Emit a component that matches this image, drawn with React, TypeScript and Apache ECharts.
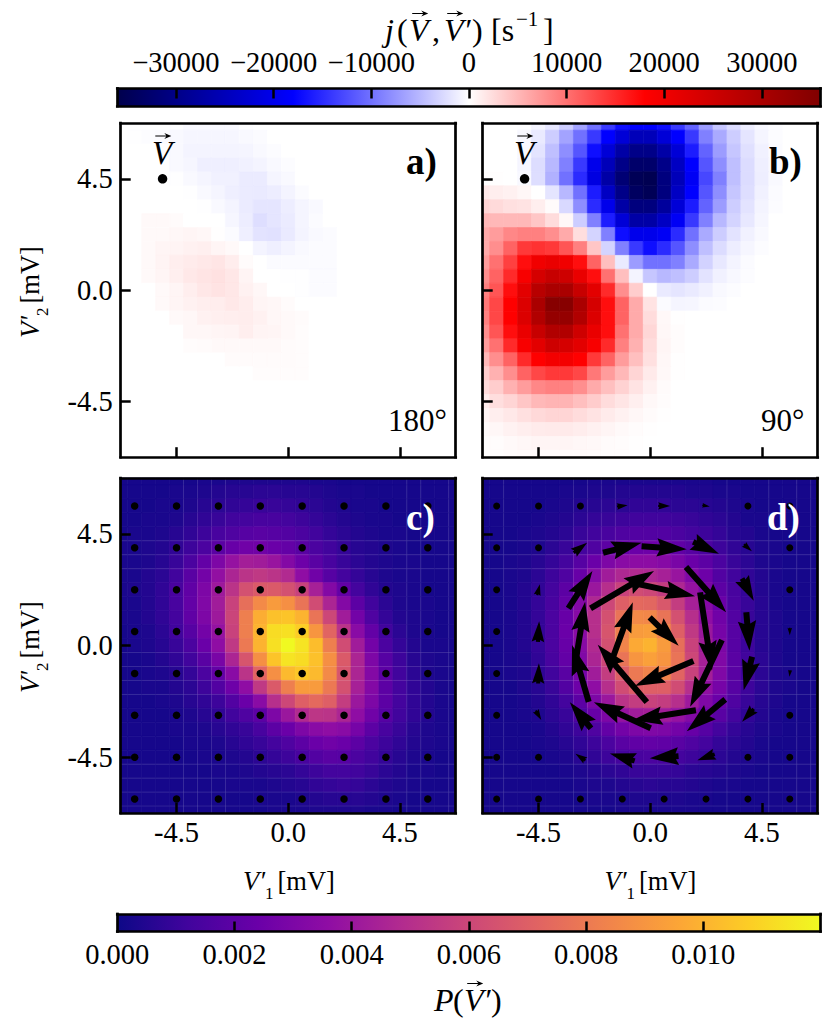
import { useEffect, useRef } from "react";
import * as echarts from "echarts";

// cell centres of the 25x25 maps, mV (the outer cells are half clipped by the frame)
const cellCenters = [
  -6.75, -6.1875, -5.625, -5.0625, -4.5, -3.9375, -3.375, -2.8125, -2.25, -1.6875, -1.125, -0.5625, 0,
  0.5625, 1.125, 1.6875, 2.25, 2.8125, 3.375, 3.9375, 4.5, 5.0625, 5.625, 6.1875, 6.75,
];
const panelTicks = [-4.5, 0, 4.5];
const currentTicks = [-30000, -20000, -10000, 0, 10000, 20000, 30000];
const probTicks = [0, 0.002, 0.004, 0.006, 0.008, 0.01];
const currentMax = 36000;
const probMax = 0.012;

const seismic = ["#00004c", "#0000ff", "#ffffff", "#ff0000", "#800000"];
const plasma = ["#0d0887", "#41049d", "#6a00a8", "#8f0da4", "#b12a90", "#cc4778", "#e16462", "#f1844b", "#fca636", "#fcce25", "#f0f921"];

// panel a), j in 1000 s^-1, rows from the top
const current180 = [
  [0, 0, 0, 0, -0.1, -0.4, -0.4, -0.4, -0.4, -0.1, 0, 0, 0, 0, 0, 0, 0, 0, 0, 0, 0, 0, 0, 0, 0],
  [0, -0.1, -0.2, -0.3, -0.4, -0.6, -0.6, -0.6, -0.6, -0.4, -0.3, 0, 0, 0, 0, 0, 0, 0, 0, 0, 0, 0, 0, 0, 0],
  [0, 0, 0, -0.1, -0.4, -0.8, -0.8, -0.8, -0.8, -0.7, -0.4, -0.2, 0, 0, 0, 0, 0, 0, 0, 0, 0, 0, 0, 0, 0],
  [0, 0, 0, 0, -0.4, -0.6, -1.1, -1.1, -1.1, -1, -0.8, -0.4, -0.2, 0, 0, 0, 0, 0, 0, 0, 0, 0, 0, 0, 0],
  [0, 0, 0, 0, -0.1, -0.4, -0.7, -1, -1, -1.4, -1.4, -0.7, -0.4, 0, 0, 0, 0, 0, 0, 0, 0, 0, 0, 0, 0],
  [0, 0, 0, 0, 0, -0.1, -0.4, -0.7, -1.1, -1.4, -1.5, -1.3, -0.8, -0.3, 0, 0, 0, 0, 0, 0, 0, 0, 0, 0, 0],
  [0, 0, 0, 0, 0, 0, -0.1, -0.4, -0.8, -1.4, -1.8, -1.8, -1.3, -0.7, -0.4, 0, 0, 0, 0, 0, 0, 0, 0, 0, 0],
  [0, 0, 0.4, 0.4, 0.3, 0, 0, 0, -0.6, -1.3, -2.3, -1.8, -1.4, -0.7, -0.3, 0, 0, 0, 0, 0, 0, 0, 0, 0, 0],
  [0, 0, 0.4, 0.4, 0.6, 0.7, 0.6, 0.1, -0.3, -1.1, -2, -2.1, -1.5, -0.8, -0.4, -0.3, 0, 0, 0, 0, 0, 0, 0, 0, 0],
  [0, 0, 0.4, 0.7, 0.8, 1, 1.1, 0.7, 0.4, 0, -0.8, -1.1, -0.8, -0.4, -0.3, -0.3, 0, 0, 0, 0, 0, 0, 0, 0, 0],
  [0, 0, 0.4, 0.8, 1.2, 1.4, 1.6, 1.8, 1.3, 0.3, 0, -0.3, -0.3, -0.3, -0.3, -0.3, 0, 0, 0, 0, 0, 0, 0, 0, 0],
  [0, 0, 0.4, 0.7, 1.1, 1.6, 1.9, 2.1, 1.7, 0.8, 0, 0, -0.1, -0.1, -0.3, -0.3, 0, 0, 0, 0, 0, 0, 0, 0, 0],
  [0, 0, 0, 0.4, 0.7, 1.2, 1.7, 2, 1.7, 1, 0.6, 0, 0, -0.1, -0.3, -0.3, 0, 0, 0, 0, 0, 0, 0, 0, 0],
  [0, 0, 0, 0.4, 0.7, 1, 1.2, 1.3, 1.6, 1.3, 0.7, 0.6, 0.3, 0, 0, 0, 0, 0, 0, 0, 0, 0, 0, 0, 0],
  [0, 0, 0, 0, 0.4, 0.6, 1, 1.1, 1.2, 1.3, 1, 0.6, 0.4, 0.3, 0, 0, 0, 0, 0, 0, 0, 0, 0, 0, 0],
  [0, 0, 0, 0, 0, 0.6, 0.6, 0.7, 0.8, 1.2, 0.8, 0.7, 0.4, 0.2, 0, 0, 0, 0, 0, 0, 0, 0, 0, 0, 0],
  [0, 0, 0, 0, 0, 0.2, 0.3, 0.4, 0.4, 0.4, 0.4, 0.4, 0.3, 0.2, 0, 0, 0, 0, 0, 0, 0, 0, 0, 0, 0],
  [0, 0, 0, 0, 0, 0, 0, 0, 0.3, 0.3, 0.3, 0.3, 0.3, 0.2, 0, 0, 0, 0, 0, 0, 0, 0, 0, 0, 0],
  [0, 0, 0, 0, 0, 0, 0, 0, 0, 0, 0.2, 0.2, 0.2, 0.2, 0, 0, 0, 0, 0, 0, 0, 0, 0, 0, 0],
  [0, 0, 0, 0, 0, 0, 0, 0, 0, 0, 0, 0, 0, 0, 0, 0, 0, 0, 0, 0, 0, 0, 0, 0, 0],
  [0, 0, 0, 0, 0, 0, 0, 0, 0, 0, 0, 0, 0, 0, 0, 0, 0, 0, 0, 0, 0, 0, 0, 0, 0],
  [0, 0, 0, 0, 0, 0, 0, 0, 0, 0, 0, 0, 0, 0, 0, 0, 0, 0, 0, 0, 0, 0, 0, 0, 0],
  [0, 0, 0, 0, 0, 0, 0, 0, 0, 0, 0, 0, 0, 0, 0, 0, 0, 0, 0, 0, 0, 0, 0, 0, 0],
  [0, 0, 0, 0, 0, 0, 0, 0, 0, 0, 0, 0, 0, 0, 0, 0, 0, 0, 0, 0, 0, 0, 0, 0, 0],
  [0, 0, 0, 0, 0, 0, 0, 0, 0, 0, 0, 0, 0, 0, 0, 0, 0, 0, 0, 0, 0, 0, 0, 0, 0],
];

// panel b), j in 1000 s^-1, rows from the top
const current90 = [
  [0, 0, 0, -0.1, -0.7, -1.7, -3.5, -6.5, -10, -14, -17, -18, -18, -17, -14, -11, -7, -4, -2.5, -1.2, -0.5, -0.2, 0, 0, 0],
  [0, 0, 0, -0.5, -1.5, -3.5, -6.5, -10, -14, -18, -22, -25, -25, -22, -18, -14, -9, -6, -3.5, -1.8, -0.7, -0.2, 0, 0, 0],
  [0, 0, 0, -0.5, -1.9, -4.5, -8, -12, -17, -22, -27, -30, -30, -27, -22, -16, -11, -7, -4, -2.2, -1, -0.3, 0, 0, 0],
  [0, 0, 0, -0.6, -2.4, -5, -9, -14, -20, -25, -30, -33, -33, -30, -24, -18, -12, -8, -4.5, -2.5, -1.1, -0.4, 0, 0, 0],
  [0.1, 0.1, 0, -0.4, -2.3, -5.5, -10, -15, -21, -27, -32, -35, -35.5, -31, -25, -19, -13, -9, -4.5, -2.5, -1.2, -0.4, 0, 0, 0],
  [1.5, 1.2, 1, 0.6, 0, -1.8, -5, -10, -16, -24, -30, -34, -35, -31, -24, -18, -12, -8, -4, -2.3, -1, -0.3, 0, 0, 0],
  [3, 2.6, 2.2, 2, 1.2, 0.3, -2.7, -8, -15, -20, -27, -31, -31, -28, -22, -16, -11, -7, -3.5, -2, -0.8, -0.2, 0, 0, 0],
  [5, 5, 5, 5, 4, 2.5, 0.5, -3.5, -9, -16, -22, -27, -27, -24, -19, -14, -9, -5, -3, -1.6, -0.6, 0, 0, 0, 0],
  [6, 7, 8.5, 9, 9, 8, 6, 2.3, -3, -9, -17, -20, -20, -19, -15, -10, -6, -3.5, -2, -1, -0.4, 0, 0, 0, 0],
  [6, 8, 11, 14, 14.5, 14, 12, 9, 4, -3, -9, -14, -17, -15, -12, -8, -4.5, -2.5, -1.3, -0.6, -0.2, 0, 0, 0, 0],
  [7, 10, 13.5, 17, 20, 21, 20, 17, 11, 4.5, -1.5, -7, -10, -10, -9, -6, -3.2, -1.6, -0.8, -0.3, 0, 0, 0, 0, 0],
  [8, 11, 15, 19, 24, 26, 25, 21, 17, 10, 4.5, -0.8, -4, -5, -4.5, -3.5, -2, -1, -0.5, -0.2, 0, 0, 0, 0, 0],
  [9, 12, 17, 22, 28, 30, 30, 26, 22, 15, 8, 3.5, 0, -1.5, -1.8, -1.5, -1, -0.4, -0.2, 0, 0, 0, 0, 0, 0],
  [9.5, 13, 18, 23, 30, 35, 35, 30, 24, 17, 11, 6, 2, -0.3, -0.7, -0.6, -0.3, -0.2, 0, 0, 0, 0, 0, 0, 0],
  [9, 13, 18, 23, 29, 33, 33, 29, 23, 17, 11, 6, 2.5, 0.5, 0.1, 0, 0, 0, 0, 0, 0, 0, 0, 0, 0],
  [8, 12, 17, 21, 26, 29, 29, 25, 21, 17, 10, 6, 2.8, 0.6, 0.2, 0, 0, 0, 0, 0, 0, 0, 0, 0, 0],
  [7, 10, 15, 19, 22, 25, 24, 22, 19, 15, 9, 5.5, 2.5, 0.7, 0.2, 0, 0, 0, 0, 0, 0, 0, 0, 0, 0],
  [5, 8, 11, 15, 18, 19.5, 19.5, 18, 14, 11, 7, 4.5, 2.2, 0.6, 0.1, 0, 0, 0, 0, 0, 0, 0, 0, 0, 0],
  [3.5, 5.5, 8, 11, 13, 14, 14, 13, 9.5, 7, 5, 3, 1.5, 0.5, 0.1, 0, 0, 0, 0, 0, 0, 0, 0, 0, 0],
  [2.5, 3.5, 5.5, 7, 8.5, 9, 9, 8, 6, 4.5, 3.2, 2, 1, 0.3, 0, 0, 0, 0, 0, 0, 0, 0, 0, 0, 0],
  [1.3, 2.3, 3, 4, 5, 5.3, 5.3, 4.5, 3.6, 2.5, 1.8, 1.1, 0.5, 0.2, 0, 0, 0, 0, 0, 0, 0, 0, 0, 0, 0],
  [0.7, 1.2, 1.6, 2.2, 2.7, 3, 3, 2.5, 2, 1.4, 1, 0.6, 0.3, 0.1, 0, 0, 0, 0, 0, 0, 0, 0, 0, 0, 0],
  [0.3, 0.6, 0.9, 1.2, 1.4, 1.5, 1.5, 1.3, 1, 0.7, 0.4, 0.2, 0.1, 0, 0, 0, 0, 0, 0, 0, 0, 0, 0, 0, 0],
  [0.1, 0.2, 0.4, 0.6, 0.7, 0.7, 0.7, 0.6, 0.5, 0.3, 0.2, 0.1, 0, 0, 0, 0, 0, 0, 0, 0, 0, 0, 0, 0, 0],
  [0.1, 0.1, 0.2, 0.3, 0.3, 0.3, 0.3, 0.3, 0.2, 0.1, 0.1, 0, 0, 0, 0, 0, 0, 0, 0, 0, 0, 0, 0, 0, 0],
];

// panel c), P x 10^4, rows from the top
const probStatic = [
  [2, 2, 2, 2, 2, 2, 3, 3, 4, 4, 4, 4, 4, 4, 3, 3, 2, 2, 2, 2, 2, 2, 2, 2, 2],
  [2, 2, 2, 2, 3, 3, 4, 5, 6, 6, 7, 7, 6, 6, 5, 4, 3, 3, 2, 2, 2, 2, 2, 2, 2],
  [2, 2, 2, 3, 3, 4, 6, 7, 8, 9, 10, 10, 9, 8, 7, 5, 4, 3, 3, 2, 2, 2, 2, 2, 2],
  [2, 2, 3, 3, 4, 6, 8, 10, 12, 13, 14, 14, 13, 11, 9, 7, 5, 4, 3, 3, 2, 2, 2, 2, 2],
  [2, 3, 3, 4, 6, 8, 11, 14, 16, 18, 19, 18, 17, 15, 12, 9, 7, 5, 4, 3, 3, 2, 2, 2, 2],
  [3, 3, 4, 5, 8, 11, 15, 19, 23, 26, 26, 24, 22, 19, 15, 12, 9, 6, 5, 4, 3, 2, 2, 2, 2],
  [3, 3, 4, 6, 10, 15, 22, 30, 38, 43, 42, 39, 32, 25, 19, 14, 10, 7, 5, 4, 3, 3, 2, 2, 2],
  [3, 3, 5, 7, 12, 19, 27, 37, 46, 52, 54, 52, 48, 36, 26, 18, 13, 9, 6, 4, 3, 3, 2, 2, 2],
  [3, 4, 5, 8, 14, 21, 30, 41, 52, 64, 68, 68, 64, 58, 44, 32, 22, 13, 8, 5, 4, 3, 2, 2, 2],
  [3, 3, 5, 8, 14, 22, 31, 42, 58, 76, 86, 92, 88, 78, 62, 46, 32, 20, 12, 7, 4, 3, 3, 2, 2],
  [3, 3, 5, 8, 13, 21, 30, 41, 59, 82, 98, 104, 105, 100, 78, 60, 42, 27, 16, 9, 5, 4, 3, 2, 2],
  [2, 3, 4, 7, 12, 18, 27, 38, 58, 82, 100, 112, 113, 108, 90, 72, 52, 34, 22, 12, 7, 4, 3, 2, 2],
  [2, 3, 4, 6, 10, 15, 24, 36, 54, 80, 100, 113, 120, 114, 103, 82, 62, 42, 27, 15, 9, 5, 3, 3, 2],
  [2, 2, 3, 5, 8, 12, 19, 29, 46, 66, 88, 105, 114, 112, 104, 88, 68, 46, 30, 18, 11, 6, 4, 3, 2],
  [2, 2, 3, 4, 6, 9, 15, 22, 34, 52, 72, 88, 102, 106, 102, 86, 66, 46, 32, 20, 12, 7, 4, 3, 2],
  [2, 2, 3, 3, 5, 7, 11, 17, 25, 36, 54, 68, 82, 92, 92, 80, 64, 44, 32, 20, 13, 8, 5, 3, 2],
  [2, 2, 2, 3, 4, 6, 8, 11, 17, 24, 34, 50, 60, 70, 74, 70, 56, 40, 30, 20, 13, 8, 5, 3, 2],
  [2, 2, 2, 2, 3, 4, 6, 8, 12, 16, 20, 30, 40, 48, 53, 52, 46, 36, 26, 18, 12, 8, 5, 3, 2],
  [2, 2, 2, 2, 3, 3, 4, 6, 8, 10, 14, 20, 24, 30, 34, 36, 34, 28, 20, 14, 10, 6, 4, 3, 2],
  [2, 2, 2, 2, 2, 3, 3, 4, 6, 8, 10, 13, 16, 20, 24, 26, 24, 20, 15, 11, 8, 5, 4, 3, 2],
  [2, 2, 2, 2, 2, 2, 3, 3, 4, 5, 7, 9, 11, 14, 17, 19, 18, 15, 12, 9, 6, 4, 3, 2, 2],
  [2, 2, 2, 2, 2, 2, 2, 3, 3, 4, 5, 6, 7, 9, 11, 13, 13, 12, 10, 7, 5, 3, 3, 2, 2],
  [2, 2, 2, 2, 2, 2, 2, 2, 3, 3, 3, 4, 5, 6, 8, 9, 10, 9, 7, 5, 4, 3, 2, 2, 2],
  [2, 2, 2, 2, 2, 2, 2, 2, 2, 2, 3, 3, 3, 4, 5, 6, 6, 6, 5, 4, 3, 2, 2, 2, 2],
  [2, 2, 2, 2, 2, 2, 2, 2, 2, 2, 2, 3, 3, 3, 4, 4, 4, 4, 3, 3, 2, 2, 2, 2, 2],
];

// panel d), P x 10^4, rows from the top
const probDriven = [
  [2, 2, 2, 2, 2, 2, 2, 2, 3, 3, 3, 3, 3, 3, 3, 3, 3, 2, 2, 2, 2, 2, 2, 2, 2],
  [2, 2, 2, 2, 2, 2, 3, 3, 4, 4, 5, 5, 5, 5, 5, 4, 4, 3, 3, 2, 2, 2, 2, 2, 2],
  [2, 2, 2, 2, 2, 3, 4, 5, 6, 7, 7, 8, 8, 8, 7, 7, 6, 5, 4, 3, 2, 2, 2, 2, 2],
  [2, 2, 2, 2, 3, 4, 5, 7, 9, 10, 11, 12, 12, 12, 11, 10, 8, 7, 5, 3, 3, 2, 2, 2, 2],
  [2, 2, 2, 3, 4, 5, 7, 10, 12, 14, 16, 17, 17, 17, 15, 13, 11, 9, 6, 5, 3, 2, 2, 2, 2],
  [2, 2, 2, 3, 4, 7, 10, 13, 16, 20, 23, 24, 25, 24, 21, 18, 15, 11, 8, 6, 4, 3, 2, 2, 2],
  [2, 2, 3, 4, 6, 9, 13, 18, 24, 30, 34, 35, 35, 33, 29, 24, 20, 15, 10, 7, 4, 3, 2, 2, 2],
  [2, 2, 3, 4, 7, 11, 16, 23, 33, 42, 47, 48, 47, 44, 39, 31, 25, 17, 12, 8, 5, 3, 2, 2, 2],
  [2, 2, 3, 5, 8, 13, 20, 28, 40, 50, 58, 62, 60, 56, 47, 38, 29, 20, 14, 9, 5, 3, 2, 2, 2],
  [2, 2, 3, 5, 9, 14, 22, 32, 47, 60, 70, 74, 73, 67, 56, 44, 33, 24, 15, 10, 6, 3, 2, 2, 2],
  [2, 2, 3, 5, 9, 15, 23, 33, 50, 64, 78, 86, 85, 78, 64, 50, 36, 26, 17, 10, 6, 4, 2, 2, 2],
  [2, 2, 3, 5, 9, 15, 24, 34, 50, 66, 82, 92, 93, 84, 70, 54, 40, 28, 18, 11, 6, 4, 2, 2, 2],
  [2, 2, 3, 5, 9, 15, 23, 33, 48, 64, 84, 97, 100, 92, 76, 58, 42, 30, 18, 11, 6, 4, 2, 2, 2],
  [2, 2, 3, 4, 8, 14, 22, 31, 46, 60, 78, 90, 94, 90, 78, 60, 44, 31, 19, 12, 7, 4, 2, 2, 2],
  [2, 2, 3, 4, 8, 12, 19, 28, 42, 56, 70, 80, 84, 84, 72, 58, 43, 31, 19, 12, 7, 4, 3, 2, 2],
  [2, 2, 2, 4, 6, 10, 17, 25, 36, 50, 62, 69, 70, 70, 62, 50, 37, 28, 18, 11, 7, 4, 3, 2, 2],
  [2, 2, 2, 3, 5, 8, 13, 20, 30, 40, 52, 56, 58, 56, 50, 41, 31, 24, 16, 10, 6, 4, 2, 2, 2],
  [2, 2, 2, 3, 4, 7, 10, 16, 23, 30, 38, 42, 43, 42, 38, 32, 25, 19, 13, 8, 5, 3, 2, 2, 2],
  [2, 2, 2, 2, 3, 5, 8, 11, 16, 22, 27, 30, 31, 30, 27, 23, 18, 13, 9, 6, 4, 3, 2, 2, 2],
  [2, 2, 2, 2, 3, 4, 6, 8, 11, 15, 19, 21, 22, 21, 19, 16, 13, 9, 7, 5, 3, 2, 2, 2, 2],
  [2, 2, 2, 2, 2, 3, 4, 6, 8, 11, 13, 14, 15, 14, 13, 11, 9, 7, 5, 4, 3, 2, 2, 2, 2],
  [2, 2, 2, 2, 2, 2, 3, 4, 5, 7, 8, 10, 10, 10, 9, 7, 6, 5, 4, 3, 2, 2, 2, 2, 2],
  [2, 2, 2, 2, 2, 2, 2, 3, 4, 4, 5, 6, 7, 6, 6, 5, 4, 3, 3, 2, 2, 2, 2, 2, 2],
  [2, 2, 2, 2, 2, 2, 2, 2, 3, 3, 3, 4, 4, 4, 4, 3, 3, 2, 2, 2, 2, 2, 2, 2, 2],
  [2, 2, 2, 2, 2, 2, 2, 2, 2, 2, 3, 3, 3, 3, 3, 3, 2, 2, 2, 2, 2, 2, 2, 2, 2],
];

// dot grid and arrows, mV, rows from the top
const dotX = [-6.1875, -4.5, -2.8125, -1.125, 0.5625, 2.25, 3.9375, 5.625];
const dotY = [5.625, 3.9375, 2.25, 0.5625, -1.125, -2.8125, -4.5, -6.1875];
const flowU = [
  [0, 0, 0, 0.43, 0.48, 0.3, 0, 0],
  [0, 0, 0.54, 1.55, 1.82, 1.04, 0.32, 0],
  [0, 0.11, 0.97, 2.56, 2.49, 1.62, 0.47, 0],
  [0, 0.05, 0.38, 0.85, 1.17, 0.48, 0.13, 0],
  [0, 0.03, -0.67, -1.98, -2.36, -1.28, -0.34, -0.03],
  [0, 0.22, -0.85, -2.29, -2.56, -1.55, -0.47, 0],
  [0, 0, -0.4, -1, -1.16, -0.7, 0, 0],
  [0, 0, 0, 0, 0, 0, 0, 0],
];
const flowV = [
  [0, 0, 0, 0.05, 0, -0.05, 0, 0],
  [0, 0, 0.4, 0.4, -0.12, -0.48, -0.28, 0],
  [0, 0.44, 1.51, 1.51, -0.54, -1.82, -0.9, 0],
  [0, 0.83, 2.4, 2.36, -1.14, -3.16, -1.55, -0.3],
  [0, 0.81, 2.29, 2.31, -1.01, -2.69, -1.35, -0.27],
  [0, -0.38, 1.05, 1.05, -0.4, -1.28, -0.52, 0],
  [0, 0, 0.27, 0.3, -0.09, -0.24, 0, 0],
  [0, 0, 0, 0, 0, 0, 0, 0],
];
const startPoint = [-5.0625, 4.5];

// the faint light seams between some cells of the maps, mV
const seamXc = [-4.219, -3.656, -3.094, -2.531, 4.781, 5.344, 6.469];
const seamYc = [4.219, 3.656, 3.094, -0.281, -0.844, -1.406, -1.969, -4.781, -5.344, -5.906, -6.469];
const seamXd = [-5.906, -3.094, -2.531, -1.969, -1.406, 3.094, 4.781, 5.906, 6.469];
const seamYd = [4.219, 3.656, 3.094, -0.844, -1.406, -1.969, -4.781, -5.344, -5.906, -6.469];

const FONT = "Liberation Serif";
const LIMIT = 6.75;
const HALF_CELL = 0.28125;
const SPINE = 2.7;

// [left, top, width, height] of each grid
const BAR_TOP = [117.3, 88.5, 703.2, 17.5];
const PANEL_A = [120.7, 123.2, 335, 334];
const PANEL_B = [482.7, 123.2, 335, 334];
const PANEL_C = [120.7, 478, 335, 335];
const PANEL_D = [482.7, 478, 335, 335];
const BAR_BOTTOM = [117.3, 914, 703.2, 17.5];

function toCells(rows: number[][], scale: number) {
  const out: number[][] = [];
  rows.forEach((row, r) => row.forEach((v, c) => out.push([cellCenters[c], cellCenters[24 - r], v * scale])));
  return out;
}

function renderCell(params: any, api: any) {
  const a = api.coord([api.value(0) - HALF_CELL, api.value(1) + HALF_CELL]);
  const b = api.coord([api.value(0) + HALF_CELL, api.value(1) - HALF_CELL]);
  const shape = echarts.graphic.clipRectByRect(
    { x: a[0], y: a[1], width: b[0] - a[0], height: b[1] - a[1] },
    params.coordSys,
  );
  const fill = api.visual("color");
  return shape && { type: "rect", shape, style: { fill, stroke: fill, lineWidth: 0.7 } };
}

function renderSeam(_params: any, api: any) {
  const vertical = api.value(2) > 0;
  const a = vertical ? api.coord([api.value(0), LIMIT]) : api.coord([-LIMIT, api.value(1)]);
  const b = vertical ? api.coord([api.value(0), -LIMIT]) : api.coord([LIMIT, api.value(1)]);
  return {
    type: "line",
    shape: { x1: a[0], y1: a[1], x2: b[0], y2: b[1] },
    style: { stroke: "rgba(255,255,255,0.14)", lineWidth: 0.9 },
  };
}

// pivot is the middle of the arrow, short arrows shrink as a whole
function renderArrow(_params: any, api: any) {
  const [x, y, u, v] = [api.value(0), api.value(1), api.value(2), api.value(3)];
  const tail = api.coord([x - u / 2, y - v / 2]);
  const tip = api.coord([x + u / 2, y + v / 2]);
  const dx = tip[0] - tail[0];
  const dy = tip[1] - tail[1];
  const len = Math.hypot(dx, dy);
  if (len < 0.5) {
    const c = api.coord([x, y]);
    return { type: "circle", shape: { cx: c[0], cy: c[1], r: 3.5 }, style: { fill: "#000" } };
  }
  const ux = dx / len;
  const uy = dy / len;
  const s = Math.min(1, len / 30);
  const at = (along: number, side: number) => [
    tail[0] + ux * along - uy * side * s,
    tail[1] + uy * along + ux * side * s,
  ];
  const points = [
    at(0, 3),
    at(len - 27 * s, 3),
    at(len - 30 * s, 9.2),
    [tip[0], tip[1]],
    at(len - 30 * s, -9.2),
    at(len - 27 * s, -3),
    at(0, -3),
  ];
  return { type: "polygon", shape: { points }, style: { fill: "#000" } };
}

function renderBar(_params: any, api: any) {
  const a = api.coord([api.value(0), 1]);
  const b = api.coord([api.value(1), 0]);
  const colors: string[] = api.value(2) > 0 ? plasma : seismic;
  return {
    type: "rect",
    shape: { x: a[0], y: a[1], width: b[0] - a[0], height: b[1] - a[1] },
    style: {
      fill: new echarts.graphic.LinearGradient(
        0, 0, 1, 0,
        colors.map((color, i) => ({ offset: i / (colors.length - 1), color })),
      ),
    },
  };
}

const line = { show: true, onZero: false, lineStyle: { color: "#000", width: SPINE, cap: "square" } };
const labelStyle = { color: "#000", fontFamily: FONT, fontSize: 28.5 };

function frameAxis(gridIndex: number, position: string, min: number, max: number) {
  return {
    type: "value", gridIndex, position, min, max, z: 10,
    axisLine: line, axisTick: { show: false }, axisLabel: { show: false }, splitLine: { show: false },
  };
}

function tickAxis(gridIndex: number, position: string, min: number, max: number, ticks: number[], showLabel: boolean, formatter: (v: number) => string, margin = 8) {
  return {
    type: "value", gridIndex, position, min, max, z: 10,
    axisLine: line,
    axisTick: { show: true, inside: true, length: 10, customValues: ticks, lineStyle: { color: "#000", width: 2.5 } },
    axisLabel: { show: showLabel, customValues: ticks, formatter, margin, ...labelStyle },
    splitLine: { show: false },
  };
}

function text(value: string, x: number, y: number, fontSize: number, extra: object = {}) {
  return {
    type: "text", x, y, z: 20,
    style: { text: value, fontFamily: FONT, fontSize, fill: "#000", verticalAlign: "middle", ...extra },
  };
}
const it = { fontStyle: "italic" };

// V' with its subscript and the unit as one rich text
function axisName(sub: string, x: number, y: number, rotation = 0) {
  return {
    type: "text", x, y, rotation, z: 20,
    style: {
      text: `{v|V′}{s|${sub}}{n|[mV]}`,
      fontFamily: FONT, verticalAlign: "middle",
      rich: {
        v: { fontFamily: FONT, fontSize: 26.5, fontStyle: "italic", fill: "#000", lineHeight: 42 },
        s: { fontFamily: FONT, fontSize: 17, fill: "#000", verticalAlign: "bottom" },
        n: { fontFamily: FONT, fontSize: 26.5, fill: "#000", lineHeight: 42, padding: [0, 0, 0, 4] },
      },
    },
  };
}

// the little arrow over V
function accent(x: number, y: number) {
  return {
    type: "polygon", x, y, z: 20,
    shape: { points: [[0, -0.6], [11, -0.6], [9, -3], [16, 0], [9, 3], [11, 0.6], [0, 0.6]] },
    style: { fill: "#000" },
  };
}

function vec(x: number, y: number, size: number, prime = false) {
  return [text(prime ? "V′" : "V", x, y, size, it), accent(x + size * 0.1, y - size * 0.5 - 0.5)];
}

const cornerLabel = (t: string, x: number, y: number, fill = "#000") =>
  text(t, x, y, 37, { fontWeight: "bold", fill });

const panels = [PANEL_A, PANEL_B, PANEL_C, PANEL_D];
const fmtPanel = (v: number) => v.toFixed(1);
const fmtCurrent = (v: number) => (v < 0 ? `\u2212${-v}` : `${v}`);
const fmtProb = (v: number) => v.toFixed(3);

const grids = [BAR_TOP, ...panels, BAR_BOTTOM].map(([left, top, width, height]) => ({ left, top, width, height }));

const dots = dotX.flatMap((x) => dotY.map((y) => [x, y]));
const arrows = dotY.flatMap((y, r) => dotX.map((x, c) => [x, y, flowU[r][c], flowV[r][c]]));

function cellSeries(gridIndex: number, rows: number[][], scale: number) {
  return {
    type: "custom", xAxisIndex: gridIndex * 2, yAxisIndex: gridIndex * 2,
    coordinateSystem: "cartesian2d", renderItem: renderCell, data: toCells(rows, scale),
    encode: { x: 0, y: 1 }, silent: true, z: 2,
  };
}

function dotSeries(gridIndex: number, data: number[][], size: number) {
  return {
    type: "scatter", xAxisIndex: gridIndex * 2, yAxisIndex: gridIndex * 2, data,
    symbolSize: size, itemStyle: { color: "#000", opacity: 1 }, silent: true, z: 4,
  };
}

function seamSeries(gridIndex: number, xs: number[], ys: number[]) {
  return {
    type: "custom", xAxisIndex: gridIndex * 2, yAxisIndex: gridIndex * 2,
    renderItem: renderSeam,
    data: [...xs.map((x) => [x, 0, 1]), ...ys.map((y) => [0, y, 0])],
    encode: { x: 0, y: 1 }, silent: true, z: 3,
  };
}

const probAxis: any = tickAxis(5, "bottom", 0, probMax, probTicks.slice(1), false, fmtProb);
probAxis.axisLabel = { show: true, customValues: probTicks, formatter: fmtProb, margin: 8, ...labelStyle };

const option = {
  animation: false,
  backgroundColor: "#fff",
  textStyle: { fontFamily: FONT },
  grid: grids,
  xAxis: [
    tickAxis(0, "top", -currentMax, currentMax, currentTicks, true, fmtCurrent, 12),
    frameAxis(0, "bottom", -currentMax, currentMax),
    tickAxis(1, "bottom", -LIMIT, LIMIT, panelTicks, false, fmtPanel),
    frameAxis(1, "top", -LIMIT, LIMIT),
    tickAxis(2, "bottom", -LIMIT, LIMIT, panelTicks, false, fmtPanel),
    frameAxis(2, "top", -LIMIT, LIMIT),
    tickAxis(3, "bottom", -LIMIT, LIMIT, panelTicks, true, fmtPanel, 5),
    frameAxis(3, "top", -LIMIT, LIMIT),
    tickAxis(4, "bottom", -LIMIT, LIMIT, panelTicks, true, fmtPanel, 5),
    frameAxis(4, "top", -LIMIT, LIMIT),
    probAxis,
    frameAxis(5, "top", 0, probMax),
  ],
  yAxis: [
    frameAxis(0, "left", 0, 1),
    frameAxis(0, "right", 0, 1),
    tickAxis(1, "left", -LIMIT, LIMIT, panelTicks, true, fmtPanel),
    frameAxis(1, "right", -LIMIT, LIMIT),
    tickAxis(2, "left", -LIMIT, LIMIT, panelTicks, false, fmtPanel),
    frameAxis(2, "right", -LIMIT, LIMIT),
    tickAxis(3, "left", -LIMIT, LIMIT, panelTicks, true, fmtPanel),
    frameAxis(3, "right", -LIMIT, LIMIT),
    tickAxis(4, "left", -LIMIT, LIMIT, panelTicks, false, fmtPanel),
    frameAxis(4, "right", -LIMIT, LIMIT),
    frameAxis(5, "left", 0, 1),
    frameAxis(5, "right", 0, 1),
  ],
  visualMap: [
    { type: "continuous", show: false, min: -currentMax, max: currentMax, dimension: 2, seriesIndex: [1, 2], inRange: { color: seismic } },
    { type: "continuous", show: false, min: 0, max: probMax, dimension: 2, seriesIndex: [3, 4], inRange: { color: plasma } },
  ],
  series: [
    { type: "custom", xAxisIndex: 0, yAxisIndex: 0, renderItem: renderBar, data: [[-currentMax, currentMax, 0]], encode: { x: [0, 1], y: 2 }, silent: true },
    cellSeries(1, current180, 1000),
    cellSeries(2, current90, 1000),
    cellSeries(3, probStatic, 1e-4),
    cellSeries(4, probDriven, 1e-4),
    dotSeries(1, [startPoint], 9.5),
    dotSeries(2, [startPoint], 9.5),
    dotSeries(3, dots, 7.5),
    {
      type: "custom", xAxisIndex: 8, yAxisIndex: 8, renderItem: renderArrow, data: arrows,
      encode: { x: 0, y: 1 }, silent: true, z: 4,
    },
    { type: "custom", xAxisIndex: 10, yAxisIndex: 10, renderItem: renderBar, data: [[0, probMax, 1]], encode: { x: [0, 1], y: 2 }, silent: true },
    seamSeries(3, seamXc, seamYc),
    seamSeries(4, seamXd, seamYd),
  ],
  graphic: [
    // colour bar titles
    text("j", 385, 30, 32, it),
    text("(", 397, 30, 32),
    ...vec(409, 30, 32),
    text(",", 432, 30, 32),
    ...vec(444, 30, 32, true),
    text(")", 472, 30, 32),
    text("[s", 491, 30, 32),
    text("−1", 516, 19, 21),
    text("]", 543, 30, 32),
    text("P", 434, 1000, 32, it),
    text("(", 453, 1000, 32),
    ...vec(464, 1000, 32, true),
    text(")", 491, 1000, 32),
    // axis names
    axisName("2", 30, 338, Math.PI / 2),
    axisName("2", 30, 693, Math.PI / 2),
    axisName("1", 243, 881),
    axisName("1", 604.5, 881),
    // panel annotations
    ...vec(152, 153, 33),
    ...vec(514, 153, 33),
    cornerLabel("a)", 406, 161),
    cornerLabel("b)", 769, 161),
    cornerLabel("c)", 406, 517, "#fff"),
    cornerLabel("d)", 767, 517, "#fff"),
    text("180°", 388, 420, 31),
    text("90°", 761, 420, 31),
  ],
};

export default function App() {
  const ref = useRef<HTMLDivElement>(null);
  useEffect(() => {
    if (!ref.current) return;
    const chart = echarts.init(ref.current, undefined, { renderer: "svg" });
    chart.setOption(option as any);
    return () => chart.dispose();
  }, []);
  return <div ref={ref} style={{ position: "absolute", left: 0, top: 0, width: 830, height: 1025 }} />;
}
